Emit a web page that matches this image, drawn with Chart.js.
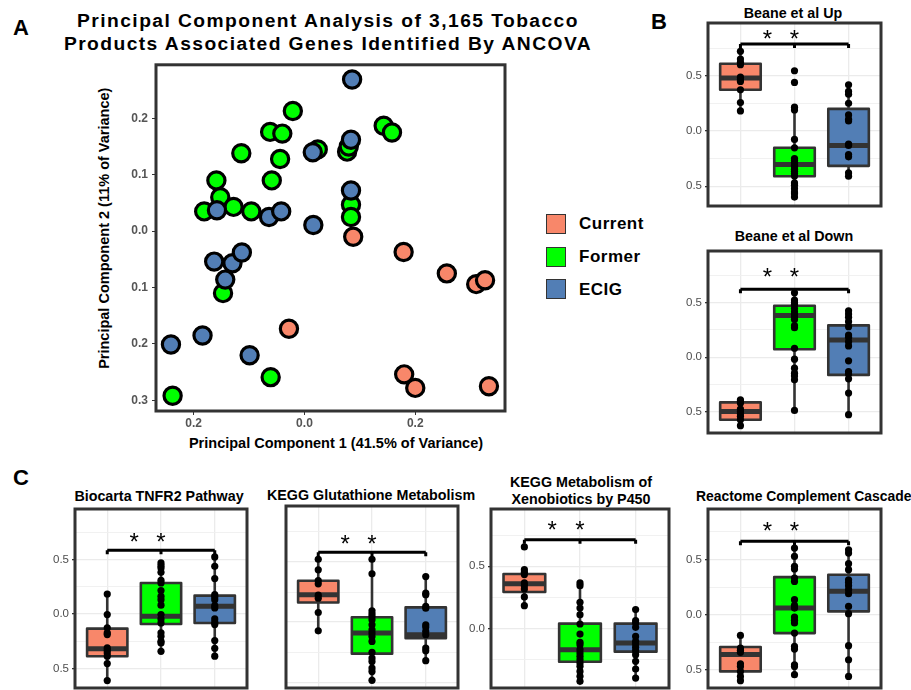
<!DOCTYPE html>
<html>
<head>
<meta charset="utf-8">
<script src="https://cdn.jsdelivr.net/npm/chart.js@4.4.1/dist/chart.umd.min.js"></script>
<style>
  body { margin: 0; width: 911px; height: 690px; overflow: hidden; position: relative; background: #fff;
         font-family: "Liberation Sans", Arial, sans-serif; }
  canvas { position: absolute; }
  .t { position: absolute; white-space: nowrap; font-weight: bold; color: #000; line-height: 1; }
  .c { text-align: center; }
  .big { font-size: 17.5px; letter-spacing: 1.3px; transform: scaleX(1.1); }
  .key { position: absolute; width: 18px; height: 18px; border: 1.5px solid #333; }
</style>
</head>
<body>
<div class="t" style="left:13px;top:17px;font-size:22px">A</div>
<div class="t" style="left:651px;top:11px;font-size:22px">B</div>
<div class="t" style="left:13px;top:467px;font-size:22px">C</div>

<div class="t c big" style="left:28px;width:600px;top:13px">Principal Component Analysis of 3,165 Tobacco</div>
<div class="t c big" style="left:28px;width:600px;top:36px">Products Associated Genes Identified By ANCOVA</div>
<div class="t c" style="left:136px;width:400px;top:436px;font-size:14.5px">Principal Component 1 (41.5% of Variance)</div>
<div class="t c" style="left:-46px;width:300px;top:221px;font-size:14.5px;transform:rotate(-90deg)">Principal Component 2 (11% of Variance)</div>

<div class="key" style="left:546px;top:214px;background:#F8876A"></div>
<div class="key" style="left:546px;top:247px;background:#00FF00"></div>
<div class="key" style="left:546px;top:279px;background:#527EB5"></div>
<div class="t" style="left:579px;top:215px;font-size:17px;letter-spacing:0.5px">Current</div>
<div class="t" style="left:579px;top:248px;font-size:17px;letter-spacing:0.5px">Former</div>
<div class="t" style="left:579px;top:281px;font-size:17px;letter-spacing:0.5px">ECIG</div>

<div class="t c" style="left:693px;width:200px;top:6px;font-size:14.3px">Beane et al Up</div>
<div class="t c" style="left:694px;width:200px;top:229px;font-size:14.3px">Beane et al Down</div>
<div class="t c" style="left:59px;width:200px;top:489px;font-size:14.3px">Biocarta TNFR2 Pathway</div>
<div class="t c" style="left:267px;width:200px;top:488px;font-size:14.3px">KEGG Glutathione Metabolism</div>
<div class="t c" style="left:481px;width:200px;top:475px;font-size:14.3px">KEGG Metabolism of</div>
<div class="t c" style="left:481px;width:200px;top:492px;font-size:14.3px">Xenobiotics by P450</div>
<div class="t c" style="left:696px;width:200px;top:490px;font-size:13.9px">Reactome Complement Cascade</div>

<canvas id="pca"></canvas>
<canvas id="up"></canvas>
<canvas id="down"></canvas>
<canvas id="c1"></canvas>
<canvas id="c2"></canvas>
<canvas id="c3"></canvas>
<canvas id="c4"></canvas>

<script>
const groupNames = ['Current', 'Former', 'ECIG'];
const groupColors = ['#F8876A', '#00FF00', '#527EB5'];

// PCA scores (PC1, PC2) per group
const pc1Current = [0.088, 0.179, 0.257, 0.310, 0.326, -0.028, 0.180, 0.200, 0.333];
const pc2Current = [-0.010, -0.037, -0.075, -0.094, -0.087, -0.173, -0.254, -0.278, -0.275];
const pc1Former = [-0.021, -0.062, -0.040, -0.114, -0.044, 0.024, 0.077, 0.080, 0.143, 0.158, -0.159,
                   -0.059, -0.152, -0.181, -0.128, -0.096, 0.084, 0.084, -0.147, -0.061, -0.238];
const pc2Former = [0.213, 0.176, 0.173, 0.138, 0.128, 0.145, 0.141, 0.150, 0.187, 0.175, 0.090,
                   0.090, 0.060, 0.035, 0.043, 0.035, 0.047, 0.025, -0.110, -0.259, -0.292];
const pc1Ecig = [0.086, 0.015, 0.084, 0.084, -0.158, -0.064, -0.042, 0.016, -0.163, -0.130, -0.113,
                 -0.143, -0.241, -0.184, -0.099];
const pc2Ecig = [0.269, 0.140, 0.162, 0.072, 0.037, 0.025, 0.035, 0.011, -0.054, -0.057, -0.038,
                 -0.086, -0.201, -0.185, -0.220];
const pcaXTicks = [-0.2, 0, 0.2];
const pcaYTicks = [-0.3, -0.2, -0.1, 0, 0.1, 0.2];

// Gene set scores per sample; box stats are [lower whisker, q1, median, q3, upper whisker]
const upCurrent = [0.723, 0.653, 0.623, 0.602, 0.489, 0.465, 0.450, 0.374, 0.258, 0.182];
const upFormer = [0.547, 0.441, 0.216, 0.191, -0.076, -0.152, -0.249, -0.264, -0.286, -0.310, -0.325,
                  -0.347, -0.365, -0.386, -0.407, -0.471, -0.492, -0.523, -0.553, -0.568, -0.599];
const upEcig = [0.419, 0.359, 0.334, 0.252, 0.146, 0.106, 0.091, -0.119, -0.131, -0.213, -0.234, -0.380, -0.410];
const upStats = [[0.182, 0.374, 0.48, 0.611, 0.723], [-0.599, -0.410, -0.304, -0.152, 0.216], [-0.410, -0.316, -0.131, 0.201, 0.419]];

const downCurrent = [-0.388, -0.403, -0.418, -0.473, -0.494, -0.515, -0.539, -0.570, -0.624];
const downFormer = [0.588, 0.521, 0.500, 0.482, 0.445, 0.415, 0.391, 0.370, 0.345, 0.288, 0.270, 0.082,
                    -0.018, -0.100, -0.145, -0.170, -0.206, -0.485];
const downEcig = [0.424, 0.394, 0.364, 0.324, 0.279, 0.203, 0.182, 0.142, 0.103, -0.033, -0.130, -0.152,
                  -0.197, -0.327, -0.524];
const downStats = [[-0.624, -0.570, -0.494, -0.412, -0.388], [-0.485, 0.073, 0.38, 0.470, 0.588], [-0.524, -0.161, 0.158, 0.291, 0.424]];

const tnfCurrent = [0.183, -0.006, -0.128, -0.174, -0.190, -0.312, -0.333, -0.358, -0.388, -0.456, -0.612];
const tnfFormer = [0.468, 0.443, 0.422, 0.382, 0.309, 0.284, 0.214, 0.162, 0.131, 0.080, -0.006, -0.046,
                   -0.083, -0.174, -0.205, -0.251, -0.266, -0.343];
const tnfEcig = [0.523, 0.437, 0.324, 0.177, 0.156, 0.131, 0.076, 0.055, -0.046, -0.076, -0.098, -0.245, -0.315, -0.388];
const tnfStats = [[-0.612, -0.388, -0.32, -0.135, 0.183], [-0.343, -0.092, -0.021, 0.284, 0.468], [-0.388, -0.083, 0.07, 0.168, 0.523]];

const gshCurrent = [0.522, 0.434, 0.345, 0.318, 0.224, 0.199, 0.080, -0.072];
const gshFormer = [0.522, 0.401, 0.094, 0.069, 0.047, 0.019, -0.022, -0.064, -0.091, -0.119, -0.160, -0.251,
                   -0.298, -0.326, -0.381, -0.409, -0.483];
const gshEcig = [0.378, 0.240, 0.227, 0.130, 0.116, -0.022, -0.041, -0.077, -0.105, -0.215, -0.238, -0.320];
const gshStats = [[-0.072, 0.163, 0.227, 0.343, 0.522], [-0.483, -0.262, -0.091, 0.041, 0.522], [-0.320, -0.133, -0.105, 0.122, 0.378]];

const p450Current = [0.656, 0.473, 0.452, 0.433, 0.366, 0.344, 0.317, 0.253, 0.183];
const p450Former = [0.366, 0.344, 0.210, 0.164, 0.110, 0.035, -0.046, -0.113, -0.132, -0.172, -0.199, -0.226,
                    -0.253, -0.280, -0.306, -0.347, -0.387, -0.427];
const p450Ecig = [0.151, 0.062, 0.043, 0.008, -0.065, -0.105, -0.126, -0.153, -0.180, -0.212, -0.266, -0.328, -0.401];
const p450Stats = [[0.183, 0.293, 0.36, 0.438, 0.473], [-0.427, -0.269, -0.172, 0.038, 0.366], [-0.401, -0.188, -0.118, 0.038, 0.151]];

const compCurrent = [-0.187, -0.301, -0.322, -0.340, -0.443, -0.467, -0.512, -0.557, -0.596];
const compFormer = [0.602, 0.527, 0.437, 0.413, 0.331, 0.301, 0.136, 0.084, 0.060, -0.021, -0.051, -0.075,
                    -0.166, -0.286, -0.310, -0.452, -0.467, -0.542];
const compEcig = [0.587, 0.557, 0.461, 0.407, 0.316, 0.292, 0.262, 0.226, 0.190, 0.075, 0.009, -0.280, -0.407, -0.557];
const compStats = [[-0.596, -0.512, -0.36, -0.292, -0.187], [-0.542, -0.166, 0.060, 0.340, 0.602], [-0.557, 0.030, 0.211, 0.361, 0.587]];

// significance bracket height and star height (score units)
const bracketLevels = {up: [0.79, 0.89], down: [0.621, 0.788], c1: [0.584, 0.719], c2: [0.58, 0.696], c3: [0.715, 0.844], c4: [0.663, 0.813]};

Chart.defaults.font.family = '"Liberation Sans", Arial, sans-serif';
Chart.defaults.animation = false;
Chart.defaults.events = [];
Chart.defaults.plugins.legend.display = false;
Chart.defaults.plugins.tooltip.enabled = false;

const PAD = 10;

const frame = {
    id: 'frame',
    afterDraw(chart) {
        const {ctx, chartArea: a} = chart;
        ctx.save();
        ctx.strokeStyle = '#333';
        ctx.lineWidth = 3;
        ctx.strokeRect(a.left, a.top, a.right - a.left, a.bottom - a.top);
        ctx.restore();
    }
};

// sizes the canvas so the plotting area lands on rect = [left, top, right, bottom]
function placeCanvas(id, rect, yw, xh, padRight) {
    const el = document.getElementById(id);
    const left = rect[0] - yw, top = rect[1] - PAD;
    el.width = rect[2] - left + padRight;
    el.height = rect[3] - top + xh + PAD;
    el.style.left = left + 'px';
    el.style.top = top + 'px';
    return el;
}

// ---- Panel A: PCA scatter ----
const pcaEl = placeCanvas('pca', [156, 63, 505, 411], 56, 20, 14);
const pcaSeries = [[pc1Current, pc2Current], [pc1Former, pc2Former], [pc1Ecig, pc2Ecig]];
const drawOrder = [0, 2, 1];
new Chart(pcaEl, {
    type: 'scatter',
    data: {
        datasets: pcaSeries.map(([xs, ys], i) => ({
            label: groupNames[i],
            data: xs.map((x, j) => ({x, y: ys[j]})),
            order: drawOrder[i],
            pointRadius: 8.6,
            pointBorderWidth: 3.2,
            pointBorderColor: '#000',
            pointBackgroundColor: groupColors[i]
        }))
    },
    options: {
        responsive: false,
        layout: {padding: {left: 0, top: PAD, right: 14, bottom: PAD}},
        scales: {
            x: {
                min: -0.268, max: 0.362,
                afterBuildTicks: s => { s.ticks = pcaXTicks.map(v => ({value: v})); },
                afterFit: s => { s.height = 20; },
                grid: {drawOnChartArea: false, tickLength: 4, tickColor: '#333'},
                border: {display: false},
                ticks: {padding: 1, color: '#555', font: {size: 12, weight: 'bold'},
                        callback: v => Math.abs(v).toFixed(1)}
            },
            y: {
                min: -0.319, max: 0.295,
                afterBuildTicks: s => { s.ticks = pcaYTicks.map(v => ({value: v})); },
                afterFit: s => { s.width = 56; },
                grid: {drawOnChartArea: false, tickLength: 4, tickColor: '#333'},
                border: {display: false},
                ticks: {padding: 4, color: '#555', font: {size: 12, weight: 'bold'},
                        callback: v => Math.abs(v).toFixed(1)}
            }
        }
    },
    plugins: [frame]
});

// ---- Box plots ----
const isMajor = v => Math.abs(v * 2 - Math.round(v * 2)) < 1e-6;

function boxPlugin(stats, levels) {
    return {
        id: 'boxes',
        beforeDatasetsDraw(chart) {
            const {ctx, scales: {x, y}} = chart;
            const half = (x.getPixelForValue(1.375) - x.getPixelForValue(1));
            ctx.save();
            stats.forEach(([lo, q1, med, q3, hi], i) => {
                const cx = x.getPixelForValue(i + 1);
                const top = y.getPixelForValue(q3), bot = y.getPixelForValue(q1);
                ctx.strokeStyle = '#333';
                ctx.lineWidth = 2.6;
                ctx.beginPath();
                ctx.moveTo(cx, y.getPixelForValue(hi));
                ctx.lineTo(cx, top);
                ctx.moveTo(cx, bot);
                ctx.lineTo(cx, y.getPixelForValue(lo));
                ctx.stroke();
                ctx.fillStyle = groupColors[i];
                ctx.fillRect(cx - half, top, half * 2, bot - top);
                ctx.lineJoin = 'round';
                ctx.strokeRect(cx - half, top, half * 2, bot - top);
                const my = y.getPixelForValue(med);
                ctx.lineWidth = 5;
                ctx.beginPath();
                ctx.moveTo(cx - half, my);
                ctx.lineTo(cx + half, my);
                ctx.stroke();
            });
            ctx.restore();
        },
        afterDatasetsDraw(chart) {
            const {ctx, scales: {x, y}} = chart;
            const by = y.getPixelForValue(levels[0]);
            const sy = y.getPixelForValue(levels[1]);
            ctx.save();
            ctx.strokeStyle = '#000';
            ctx.lineWidth = 3;
            ctx.beginPath();
            [1, 2, 3].forEach(g => {
                ctx.moveTo(x.getPixelForValue(g), by);
                ctx.lineTo(x.getPixelForValue(g), by + 4);
            });
            ctx.moveTo(x.getPixelForValue(1), by);
            ctx.lineTo(x.getPixelForValue(3), by);
            ctx.stroke();
            ctx.fillStyle = '#000';
            ctx.font = '24px "Liberation Sans"';
            ctx.textAlign = 'center';
            ctx.textBaseline = 'alphabetic';
            [1.5, 2].forEach(g => ctx.fillText('*', x.getPixelForValue(g), sy + 0.58 * 24));
            ctx.restore();
        }
    };
}

function boxChart(id, rect, yMin, yMax, showY, groups, stats, levels) {
    const yw = showY ? 36 : 10;
    const el = placeCanvas(id, rect, yw, 0, PAD);
    const yTicks = [-0.75, -0.5, -0.25, 0, 0.25, 0.5, 0.75].filter(v => v >= yMin && v <= yMax);
    new Chart(el, {
        type: 'scatter',
        data: {
            datasets: [{
                data: groups.flatMap((vals, i) => vals.map(v => ({x: i + 1, y: v}))),
                pointRadius: 3.6,
                pointBorderWidth: 0,
                pointBackgroundColor: '#000'
            }]
        },
        options: {
            responsive: false,
            layout: {padding: {left: 0, top: PAD, right: PAD, bottom: PAD}},
            scales: {
                x: {
                    min: 0.4, max: 3.6,
                    afterBuildTicks: s => { s.ticks = [1, 2, 3].map(v => ({value: v})); },
                    afterFit: s => { s.height = 0; },
                    grid: {color: '#ebebeb', lineWidth: 1.3, drawTicks: false},
                    border: {display: false},
                    ticks: {display: false}
                },
                y: {
                    min: yMin, max: yMax,
                    afterBuildTicks: s => { s.ticks = yTicks.map(v => ({value: v})); },
                    afterFit: s => { s.width = yw; },
                    grid: {
                        color: c => isMajor(c.tick.value) ? '#ebebeb' : '#efefef',
                        lineWidth: c => isMajor(c.tick.value) ? 1.3 : 0.9,
                        drawTicks: showY,
                        tickLength: 3,
                        tickColor: c => isMajor(c.tick.value) ? '#333' : 'rgba(0,0,0,0)'
                    },
                    border: {display: false},
                    ticks: {
                        display: showY, autoSkip: false, padding: 3, color: '#4d4d4d', font: {size: 11.5},
                        callback: v => isMajor(v) ? Math.abs(v).toFixed(1) : ''
                    }
                }
            }
        },
        plugins: [boxPlugin(stats, levels), frame]
    });
}

boxChart('up', [708, 23, 881, 206], -0.68, 0.98, true, [upCurrent, upFormer, upEcig], upStats, bracketLevels.up);
boxChart('down', [708, 251, 881, 433], -0.691, 0.969, true, [downCurrent, downFormer, downEcig], downStats, bracketLevels.down);
boxChart('c1', [75, 509, 247, 688], -0.68, 0.963, true, [tnfCurrent, tnfFormer, tnfEcig], tnfStats, bracketLevels.c1);
boxChart('c2', [286, 506, 458, 688], -0.547, 0.964, false, [gshCurrent, gshFormer, gshEcig], gshStats, bracketLevels.c2);
boxChart('c3', [491, 509, 669, 688], -0.481, 0.962, true, [p450Current, p450Former, p450Ecig], p450Stats, bracketLevels.c3);
boxChart('c4', [708, 509, 881, 688], -0.662, 0.955, true, [compCurrent, compFormer, compEcig], compStats, bracketLevels.c4);
</script>
</body>
</html>
